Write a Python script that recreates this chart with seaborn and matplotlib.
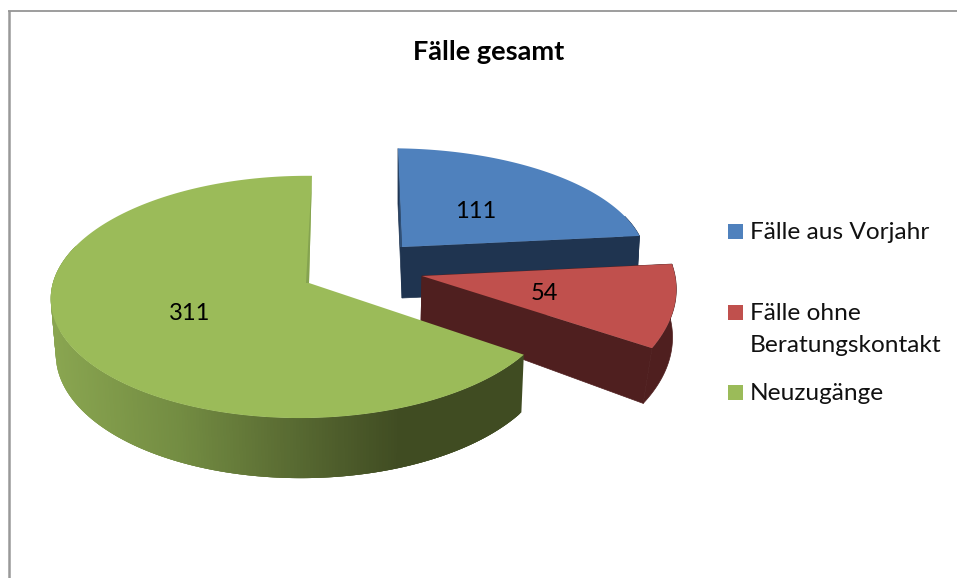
import numpy as np
import matplotlib
matplotlib.use("Agg")
import matplotlib.pyplot as plt
from matplotlib.patches import Rectangle
import seaborn as sns

# data
categories = ["Fälle aus Vorjahr", "Fälle ohne Beratungskontakt", "Neuzugänge"]
legend_labels = ["Fälle aus Vorjahr", "Fälle ohne\nBeratungskontakt", "Neuzugänge"]
values = [111, 54, 311]
title = "Fälle gesamt"

# style
top_colors = ["#4F81BD", "#C0504D", "#9BBB59"]
wall_colors = ["#1F3450", "#4F1F1F", None]
sliver_colors = ["#2F5078", None, "#85A350"]

sns.set_theme(style="white")
plt.rcParams["font.family"] = ["Lato", "DejaVu Sans"]
palette = sns.color_palette(top_colors)

# per-slice layout of the projected disc, in pixels: apex, radii, perspective terms
top_geo = [
    dict(cx=402, cy=247, rx=250, ry=110, k=0.115, m=0.033, sx=-4.5),
    dict(cx=422, cy=276, rx=348, ry=157, k=0.115, m=0.375, sx=0),
    dict(cx=309, cy=283, rx=251, ry=119.5, k=0.115, m=0.02, sx=3.3),
]
bottom_geo = [
    dict(cx=402, cy=298, rx=247, ry=105, k=0.115, m=0.033, sx=-4.5),
    dict(cx=421, cy=322, rx=275, ry=145, k=0.115, m=0.1, sx=0),
    dict(cx=310, cy=338, rx=247, ry=124, k=0.115, m=0.02, sx=3.3),
]
sliver_offsets = [-2, 0, -3]


def project(theta_deg, radius, g):
    t = np.radians(theta_deg)
    X, Y = radius * np.cos(t), radius * np.sin(t)
    w = 1 + g["k"] * Y + g["m"] * X
    return g["cx"] + (g["rx"] * X + g["sx"] * Y) / w, g["cy"] - g["ry"] * Y / w


fig = plt.figure(figsize=(9.57, 5.78), dpi=100, facecolor="white")
ax = fig.add_axes([0, 0, 1, 1])
ax.set_xlim(0, 957)
ax.set_ylim(578, 0)
ax.axis("off")

# outer frame
ax.plot([9, 9], [578, 10.5], color="#999999", lw=1.8, solid_capstyle="butt", zorder=1)
ax.plot([8, 957], [10.5, 10.5], color="#8C8C8C", lw=1.2, solid_capstyle="butt", zorder=1)

fractions = np.array(values, dtype=float) / np.sum(values)
ends = 90 - 360 * np.cumsum(fractions)
starts = ends + 360 * fractions

green_x = [55, 180, 320, 400, 530]
green_rgb = np.array([[137, 165, 80], [115, 140, 66], [82, 98, 46], [64, 76, 34], [64, 76, 34]]) / 255

z = 2
for i in range(len(values)):
    tg, bg = top_geo[i], bottom_geo[i]
    th = np.linspace(starts[i], ends[i], 360)
    xt, yt = project(th, 1, tg)
    xb, yb = project(th, 1, bg)
    base = wall_colors[i]
    front = np.where(np.sin(np.radians(th)) < 0.3)[0]
    if base:
        # plain wall: one outline with a hairline of its own colour closes the joins
        for j in (0, -1):
            ax.fill([tg["cx"], xt[j], xb[j], bg["cx"]], [tg["cy"], yt[j], yb[j], bg["cy"]],
                    facecolor=base, edgecolor=base, lw=0.5, zorder=z)
        ax.fill(np.r_[xt[front], xb[front][::-1]], np.r_[yt[front], yb[front][::-1]],
                facecolor=base, edgecolor=base, lw=0.5, zorder=z)
    else:
        # shaded wall: overlapping strips painted in order, so no seams appear
        for a in front[:-1]:
            b = min(a + 3, len(th) - 1)
            mx = (xt[a] + xt[a + 1]) / 2
            c = tuple(np.interp(mx, green_x, green_rgb[:, n]) for n in range(3))
            ax.fill([xt[a], xt[b], xb[b], xb[a]], [yt[a], yt[b], yb[b], yb[a]],
                    color=c, lw=0, zorder=z)
    z += 1
    # top face
    ax.fill(np.r_[tg["cx"], xt], np.r_[tg["cy"], yt], color=palette[i], lw=0, zorder=z)
    if sliver_colors[i]:
        ax.fill([xt[0] if i == 0 else xt[-1], tg["cx"], tg["cx"] + sliver_offsets[i]],
                [yt[0] if i == 0 else yt[-1], tg["cy"], tg["cy"]],
                color=sliver_colors[i], lw=0, zorder=z)
    z += 1

# value labels
label_pos = [(476, 212), (544, 294), (190, 314)]
for v, (lx, ly) in zip(values, label_pos):
    ax.text(lx, ly, str(v), ha="center", va="center", fontsize=17, color="black", zorder=20)

ax.text(489, 52, title, ha="center", va="center", fontsize=19.5, fontweight="bold", color="black", zorder=20)

# legend
legend_y = [231.5, 312.5, 392.5]
for lab, col, ly in zip(legend_labels, palette, legend_y):
    ax.add_patch(Rectangle((728, ly - 7.5), 15, 15, facecolor=col, edgecolor="none", zorder=20))
    first, *rest = lab.split("\n")
    ax.text(750, ly + 1, first, ha="left", va="center", fontsize=17.6, color="#111111", zorder=20)
    for n, r in enumerate(rest, 1):
        ax.text(750, ly + 1 + 32 * n, r, ha="left", va="center", fontsize=17.6, color="#111111", zorder=20)

fig.savefig("out.png", dpi=100, facecolor="white")
